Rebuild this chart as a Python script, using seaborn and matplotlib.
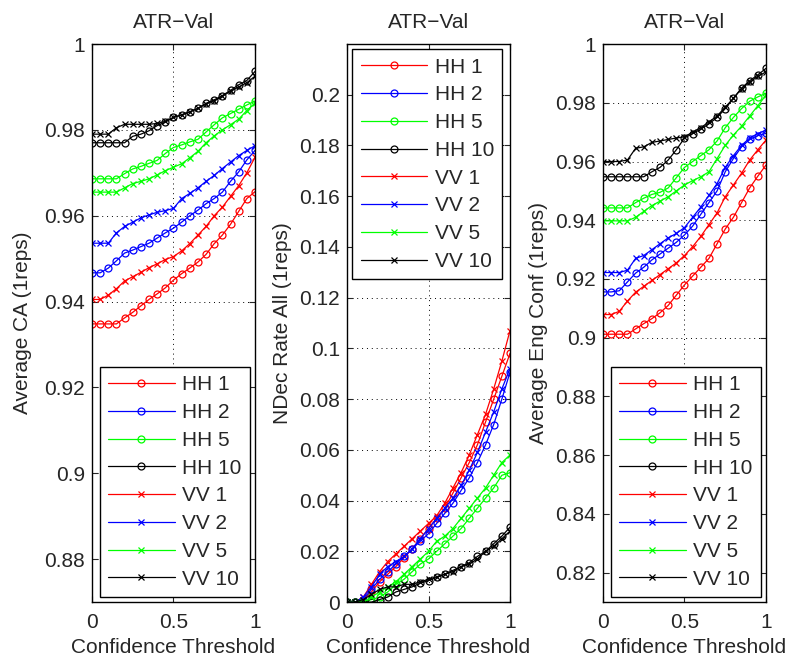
import numpy as np
import pandas as pd
import seaborn as sns
import matplotlib.pyplot as plt

sns.set_style("ticks")
plt.rcParams['font.family'] = ['Liberation Sans', 'DejaVu Sans']

# confidence thresholds
thr = [0.0, 0.05, 0.1, 0.15, 0.2, 0.25, 0.3, 0.35, 0.4, 0.45, 0.5,
       0.55, 0.6, 0.65, 0.7, 0.75, 0.8, 0.85, 0.9, 0.95, 1.0]

# Average CA
ca_hh1 = [0.9348, 0.9348, 0.9348, 0.9348, 0.9362, 0.9375, 0.9390, 0.9405, 0.9418, 0.9432, 0.9450,
          0.9465, 0.9478, 0.9492, 0.9510, 0.9535, 0.9555, 0.9580, 0.9610, 0.9640, 0.9656]
ca_vv1 = [0.9405, 0.9405, 0.9415, 0.9430, 0.9448, 0.9458, 0.9468, 0.9479, 0.9488, 0.9498, 0.9505,
          0.9518, 0.9535, 0.9555, 0.9575, 0.9600, 0.9620, 0.9645, 0.9670, 0.9700, 0.9736]
ca_hh2 = [0.9467, 0.9467, 0.9478, 0.9495, 0.9513, 0.9520, 0.9528, 0.9536, 0.9548, 0.9560, 0.9571,
          0.9585, 0.9600, 0.9613, 0.9628, 0.9640, 0.9655, 0.9680, 0.9702, 0.9730, 0.9752]
ca_vv2 = [0.9536, 0.9536, 0.9536, 0.9560, 0.9575, 0.9585, 0.9595, 0.9602, 0.9608, 0.9612, 0.9617,
          0.9640, 0.9652, 0.9665, 0.9680, 0.9694, 0.9710, 0.9725, 0.9740, 0.9752, 0.9763]
ca_hh5 = [0.9686, 0.9686, 0.9686, 0.9686, 0.9698, 0.9709, 0.9715, 0.9722, 0.9729, 0.9745, 0.9759,
          0.9765, 0.9772, 0.9778, 0.9795, 0.9812, 0.9828, 0.9838, 0.9848, 0.9858, 0.9867]
ca_vv5 = [0.9655, 0.9655, 0.9655, 0.9655, 0.9665, 0.9675, 0.9680, 0.9686, 0.9695, 0.9705, 0.9713,
          0.9721, 0.9735, 0.9750, 0.9770, 0.9786, 0.9800, 0.9812, 0.9825, 0.9845, 0.9862]
ca_hh10 = [0.9770, 0.9770, 0.9770, 0.9770, 0.9770, 0.9785, 0.9790, 0.9798, 0.9810, 0.9818, 0.9829,
           0.9835, 0.9842, 0.9850, 0.9862, 0.9870, 0.9880, 0.9892, 0.9905, 0.9915, 0.9936]
ca_vv10 = [0.9790, 0.9790, 0.9790, 0.9805, 0.9813, 0.9813, 0.9813, 0.9813, 0.9815, 0.9820, 0.9829,
           0.9835, 0.9842, 0.9850, 0.9860, 0.9868, 0.9878, 0.9890, 0.9900, 0.9910, 0.9925]

# NDec rate
nd_hh1 = [0, 0, 0.001, 0.004, 0.008, 0.011, 0.014, 0.0175, 0.021, 0.025, 0.029,
          0.033, 0.037, 0.043, 0.049, 0.055, 0.062, 0.071, 0.080, 0.089, 0.098]
nd_vv1 = [0, 0, 0.002, 0.007, 0.012, 0.016, 0.019, 0.022, 0.025, 0.028, 0.031,
          0.034, 0.039, 0.045, 0.051, 0.058, 0.066, 0.074, 0.084, 0.095, 0.107]
nd_hh2 = [0, 0, 0.001, 0.005, 0.009, 0.012, 0.015, 0.018, 0.021, 0.024, 0.027,
          0.031, 0.035, 0.039, 0.044, 0.049, 0.055, 0.062, 0.070, 0.080, 0.0906]
nd_vv2 = [0, 0, 0.002, 0.006, 0.011, 0.014, 0.016, 0.018, 0.021, 0.025, 0.029,
          0.033, 0.037, 0.041, 0.046, 0.052, 0.059, 0.067, 0.075, 0.084, 0.092]
nd_hh5 = [0, 0, 0, 0.001, 0.002, 0.004, 0.007, 0.009, 0.012, 0.015, 0.017,
          0.020, 0.023, 0.026, 0.029, 0.033, 0.037, 0.041, 0.045, 0.050, 0.051]
nd_vv5 = [0, 0, 0, 0.002, 0.004, 0.006, 0.008, 0.011, 0.014, 0.017, 0.020,
          0.024, 0.026, 0.029, 0.033, 0.037, 0.041, 0.045, 0.050, 0.055, 0.058]
nd_hh10 = [0, 0, 0, 0, 0.001, 0.002, 0.004, 0.005, 0.006, 0.0075, 0.0085,
           0.0097, 0.011, 0.0125, 0.014, 0.0155, 0.018, 0.020, 0.023, 0.026, 0.0295]
nd_vv10 = [0, 0, 0.001, 0.003, 0.005, 0.006, 0.006, 0.007, 0.007, 0.008, 0.009,
           0.010, 0.011, 0.012, 0.014, 0.015, 0.017, 0.020, 0.022, 0.025, 0.028]

# Average Eng Conf
ec_hh1 = [0.9012, 0.9012, 0.9012, 0.9012, 0.9030, 0.9048, 0.9065, 0.9085, 0.9110, 0.9145, 0.9180,
          0.9210, 0.9240, 0.9270, 0.9320, 0.9370, 0.9410, 0.9460, 0.9510, 0.9550, 0.9588]
ec_vv1 = [0.9079, 0.9079, 0.9090, 0.9125, 0.9155, 0.9175, 0.9195, 0.9215, 0.9235, 0.9255, 0.9280,
          0.9310, 0.9345, 0.9385, 0.9425, 0.9480, 0.9520, 0.9560, 0.9605, 0.9640, 0.9673]
ec_hh2 = [0.9156, 0.9156, 0.9160, 0.9190, 0.9220, 0.9240, 0.9265, 0.9285, 0.9305, 0.9325, 0.9350,
          0.9380, 0.9420, 0.9460, 0.9500, 0.9565, 0.9610, 0.9650, 0.9675, 0.9688, 0.9696]
ec_vv2 = [0.9222, 0.9222, 0.9222, 0.9230, 0.9270, 0.9280, 0.9300, 0.9320, 0.9340, 0.9355, 0.9375,
          0.9410, 0.9445, 0.9485, 0.9525, 0.9580, 0.9620, 0.9655, 0.9680, 0.9695, 0.9707]
ec_hh5 = [0.9442, 0.9442, 0.9442, 0.9442, 0.9460, 0.9475, 0.9488, 0.9495, 0.9510, 0.9545, 0.9580,
          0.9600, 0.9620, 0.9640, 0.9670, 0.9715, 0.9750, 0.9780, 0.9805, 0.9820, 0.9832]
ec_vv5 = [0.9398, 0.9398, 0.9398, 0.9398, 0.9410, 0.9430, 0.9450, 0.9465, 0.9480, 0.9500, 0.9520,
          0.9535, 0.9548, 0.9565, 0.9610, 0.9655, 0.9690, 0.9720, 0.9755, 0.9790, 0.9826]
ec_hh10 = [0.9548, 0.9548, 0.9548, 0.9548, 0.9548, 0.9548, 0.9565, 0.9580, 0.9605, 0.9640, 0.9680,
           0.9695, 0.9710, 0.9728, 0.9750, 0.9780, 0.9815, 0.9850, 0.9875, 0.9895, 0.9917]
ec_vv10 = [0.9600, 0.9600, 0.9600, 0.9605, 0.9645, 0.9650, 0.9665, 0.9670, 0.9675, 0.9680, 0.9684,
           0.9700, 0.9715, 0.9735, 0.9755, 0.9785, 0.9815, 0.9848, 0.9870, 0.9890, 0.9905]

labels = ['HH 1', 'HH 2', 'HH 5', 'HH 10', 'VV 1', 'VV 2', 'VV 5', 'VV 10']
colors = ['#ff0000', '#0000ff', '#00ff00', '#000000'] * 2
markers = ['o'] * 4 + ['x'] * 4

panels = [
    ([ca_hh1, ca_hh2, ca_hh5, ca_hh10, ca_vv1, ca_vv2, ca_vv5, ca_vv10],
     'Average CA (1reps)', (0.87, 1.0), [0.88, 0.9, 0.92, 0.94, 0.96, 0.98, 1.0], 'lower right'),
    ([nd_hh1, nd_hh2, nd_hh5, nd_hh10, nd_vv1, nd_vv2, nd_vv5, nd_vv10],
     'NDec Rate All (1reps)', (0.0, 0.22),
     [0, 0.02, 0.04, 0.06, 0.08, 0.1, 0.12, 0.14, 0.16, 0.18, 0.2], 'upper left'),
    ([ec_hh1, ec_hh2, ec_hh5, ec_hh10, ec_vv1, ec_vv2, ec_vv5, ec_vv10],
     'Average Eng Conf (1reps)', (0.81, 1.0),
     [0.82, 0.84, 0.86, 0.88, 0.9, 0.92, 0.94, 0.96, 0.98, 1.0], 'lower right'),
]

FS = 15
fig = plt.figure(figsize=(7.95, 6.62), dpi=100)
lefts = [0.1157, 0.4365, 0.7585]
ypads = [9, 5, 5]
w, b, h = 0.205, 0.0905, 0.8430

for left, ypad, (series, ylab, ylim, yt, loc) in zip(lefts, ypads, panels):
    ax = fig.add_axes([left, b, w, h])
    for vals, lab, c, m in zip(series, labels, colors, markers):
        df = pd.DataFrame({'thr': thr, 'val': vals})
        if m == 'o':
            sns.lineplot(data=df, x='thr', y='val', ax=ax, color=c, marker='o', markersize=5,
                         markerfacecolor='none', markeredgecolor=c, markeredgewidth=0.9,
                         linewidth=0.9, label=lab)
        else:
            sns.lineplot(data=df, x='thr', y='val', ax=ax, color=c, marker='x', markersize=4,
                         markeredgecolor=c, markeredgewidth=0.9, linewidth=0.9, label=lab)
    ax.set_xlim(0, 1)
    ax.set_ylim(*ylim)
    ax.set_xticks([0, 0.5, 1])
    ax.set_xticklabels(['0', '0.5', '1'])
    ax.set_yticks(yt)
    ax.set_yticklabels([f'{v:g}' for v in yt])
    ax.grid(True, color='black', linestyle=(0, (1, 4)), linewidth=0.7)
    ax.tick_params(direction='in', top=True, right=True, labelsize=FS, length=4)
    ax.tick_params(axis='x', pad=8)
    ax.tick_params(axis='y', pad=5)
    for s in ax.spines.values():
        s.set_linewidth(1.0)
        s.set_color('black')
    ax.set_title('ATR\u2212Val', fontsize=FS, pad=11.5)
    ax.set_xlabel('Confidence Threshold', fontsize=FS, labelpad=4)
    ax.set_ylabel(ylab, fontsize=FS, labelpad=ypad)
    leg = ax.legend(loc=loc, fontsize=FS, handlelength=3.2, numpoints=1, fancybox=False,
                    framealpha=1, edgecolor='black', borderaxespad=0.25, labelspacing=0.42,
                    handletextpad=0.35, borderpad=0.4)
    leg.get_frame().set_linewidth(1.0)

fig.savefig('out.png', dpi=100)
